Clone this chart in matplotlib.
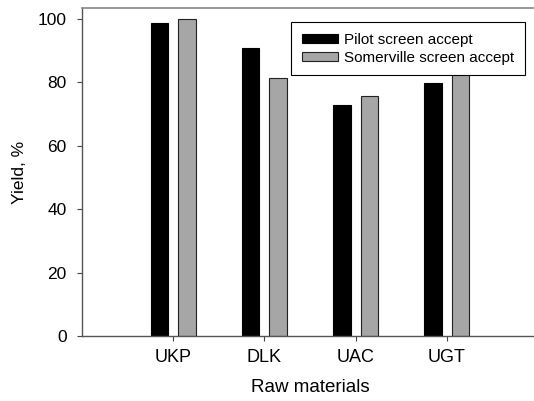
import numpy as np
import matplotlib
matplotlib.use("Agg")
import matplotlib.pyplot as plt

plt.rcParams['font.family'] = ['Liberation Sans', 'DejaVu Sans']

# data
materials = ["UKP", "DLK", "UAC", "UGT"]
pilot = [98.8, 91.0, 73.0, 79.8]
somerville = [100.0, 81.5, 75.8, 85.0]
series_names = ["Pilot screen accept", "Somerville screen accept"]

W, H = 534, 401
fig = plt.figure(figsize=(W / 100, H / 100), dpi=100)
# axes box in pixels: x 82..538, y 8..336 (right edge falls off the image)
ax = fig.add_axes([82 / W, (H - 336) / H, (538 - 82) / W, (336 - 8) / H])

x = np.arange(1, len(materials) + 1)
bw = 0.19
ax.bar(x - 0.15, pilot, width=bw, color="black", edgecolor="black", linewidth=0.8,
       label=series_names[0], zorder=2)
ax.bar(x + 0.15, somerville, width=bw, color="#a6a6a6", edgecolor="#222222", linewidth=0.8,
       label=series_names[1], zorder=2)

ax.set_xlim(0, 5)
ax.set_ylim(0, 103.5)
ax.set_xticks(x)
ax.set_xticklabels(materials)
ax.set_yticks(np.arange(0, 101, 20))
ax.tick_params(axis="both", direction="out", length=3.5, width=0.8, colors="#444444",
               labelcolor="black")
ax.tick_params(axis="y", labelsize=12.5, pad=7.5)
ax.tick_params(axis="x", labelsize=13, pad=6)

for side in ["left", "bottom"]:
    ax.spines[side].set_color("#555555")
    ax.spines[side].set_linewidth(1.0)
ax.spines["top"].set_color("#888888")
ax.spines["top"].set_linewidth(1.2)
ax.spines["right"].set_visible(False)

ax.set_ylabel("Yield, %", fontsize=12.5, labelpad=8)
ax.set_xlabel("Raw materials", fontsize=13.5, labelpad=9)

leg = ax.legend(loc="upper left", bbox_to_anchor=(0.458, 0.957), borderaxespad=0,
                fontsize=11, frameon=True, fancybox=False, shadow=False, framealpha=1,
                handlelength=2.4, handleheight=0.55, handletextpad=0.4,
                borderpad=0.7, labelspacing=0.25)
leg.get_frame().set_edgecolor("black")
leg.get_frame().set_linewidth(0.8)
leg.set_zorder(5)

fig.savefig("out.png", dpi=100)
